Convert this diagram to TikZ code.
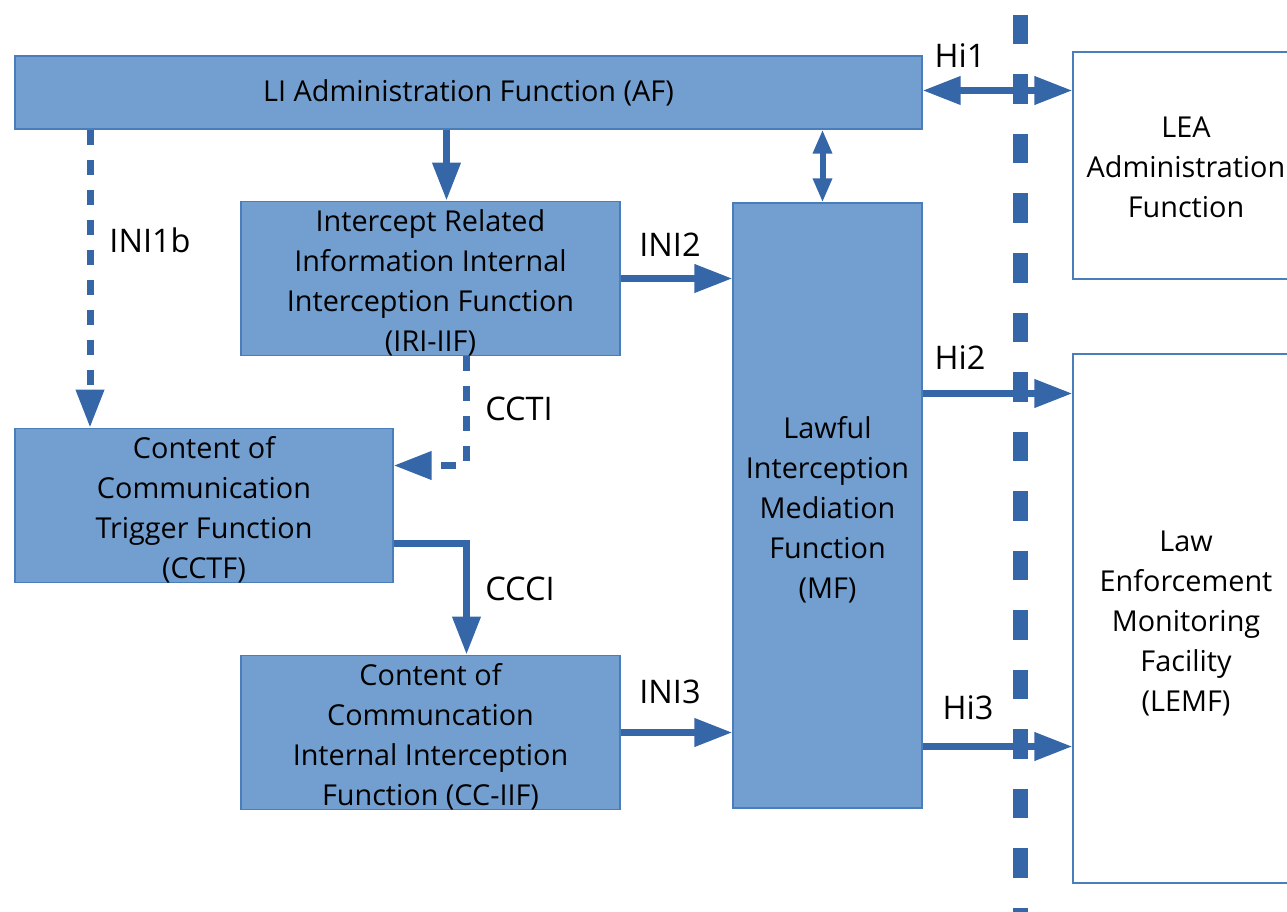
\documentclass[tikz,border=0pt]{standalone}
\usepackage{fontspec}
\setmainfont{Open Sans}
\usepackage{xcolor}
\usepackage{tikz}
\usetikzlibrary{arrows.meta, positioning}

\definecolor{boxfill}{RGB}{114,159,207}
\definecolor{boxline}{RGB}{74,126,187}
\definecolor{arrowblue}{RGB}{53,102,168}

\tikzset{
	funcbox/.style={draw=boxline, line width=1.2pt, fill=boxfill, align=center, inner sep=0pt,
		font=\fontsize{28.8}{40}\selectfont},
	% taller strut, so that the text sits a little lower
	lowtext/.style={execute at begin node={\rule{0pt}{#1}}},
	leabox/.style={funcbox, fill=white},
	iflabel/.style={inner sep=0pt, font=\fontsize{32.5}{38}\selectfont},
	flow/.style={draw=arrowblue, line width=7pt, -{Triangle[length=38pt, width=27pt]}},
	dflow/.style={flow, dash pattern=on 15pt off 15pt},
	bothflow/.style={flow, {Triangle[length=38pt, width=27pt]}-{Triangle[length=38pt, width=27pt]}},
	ctrlflow/.style={draw=arrowblue, line width=6pt, {Triangle[length=24pt, width=18pt]}-{Triangle[length=24pt, width=18pt]}}
}

\begin{document}
\begin{tikzpicture}[x=1pt, y=-1pt]
	\useasboundingbox (0,0) rectangle (1287,912);

	% Boxes of the operator side
	\node[funcbox, minimum width=907pt, minimum height=73pt] (af) at (468.5,92.5) {LI Administration Function (AF)};
	\node[funcbox, lowtext=150pt, minimum width=379pt, minimum height=151pt] (iri) at (430.5,278.5) {
		Intercept Related\\Information Internal\\Interception Function\\(IRI-IIF)};
	\node[funcbox, lowtext=150pt, minimum width=378pt, minimum height=151pt] (cctf) at (204,505.5) {
		Content of\\Communication\\Trigger Function\\(CCTF)};
	\node[funcbox, lowtext=150pt, minimum width=379pt, minimum height=151pt] (cciif) at (430.5,732.5) {
		Content of\\Communcation\\Internal Interception\\Function (CC-IIF)};
	\node[funcbox, lowtext=190pt, minimum width=189pt, minimum height=605pt] (mf) at (827.5,505.5) {
		Lawful\\Interception\\Mediation\\Function\\(MF)};

	% Boxes of the LEA side
	\node[leabox, lowtext=105pt, minimum width=226pt, minimum height=227pt] (lea) at (1186,165.5) {
		LEA\\Administration\\Function};
	\node[leabox, lowtext=190pt, minimum width=226pt, minimum height=529pt] (lemf) at (1186,618.5) {
		Law\\Enforcement\\Monitoring\\Facility\\(LEMF)};

	% Handover border
	\draw[arrowblue, line width=15pt, dash pattern=on 29.5pt off 30pt] (1020,15) -- (1020,940);

	% Internal interfaces
	\draw[flow] ([xshift=16pt]iri.north |- af.south) -- ([xshift=16pt]iri.north);
	\draw[ctrlflow] ([xshift=-5pt]mf.north |- af.south) -- ([xshift=-5pt]mf.north);
	\draw[dflow] ([xshift=-114pt]cctf.north |- af.south) -- ([xshift=-114pt]cctf.north);
	\draw[flow] (iri.east) -- (iri.east -| mf.west);
	\draw[dflow] ([xshift=36pt]iri.south) |- ([yshift=40pt]cctf.east);
	\draw[flow] ([yshift=-38pt]cctf.east) -| ([xshift=36pt]cciif.north);
	\draw[flow] (cciif.east) -- (cciif.east -| mf.west);

	% Handover interfaces
	\draw[bothflow] ([yshift=2pt]af.east) -- ([yshift=2pt]af.east -| lea.west);
	\draw[flow] ([yshift=112pt]mf.east) -- ([yshift=112pt]mf.east -| lemf.west);
	\draw[flow] ([yshift=-241pt]mf.east) -- ([yshift=-241pt]mf.east -| lemf.west);

	% Interface names
	\node[iflabel] (hione) at (960,56) {Hi1};
	\node[iflabel] (hitwo) at (960,358) {Hi2};
	\node[iflabel] (hithree) at (968,708) {Hi3};
	\node[iflabel] (inione) at (150,240) {INI1b};
	\node[iflabel] (initwo) at (670,245) {INI2};
	\node[iflabel] (inithree) at (670,692) {INI3};
	\node[iflabel] (ccti) at (519,409) {CCTI};
	\node[iflabel] (ccci) at (520,589) {CCCI};
\end{tikzpicture}
\end{document}
